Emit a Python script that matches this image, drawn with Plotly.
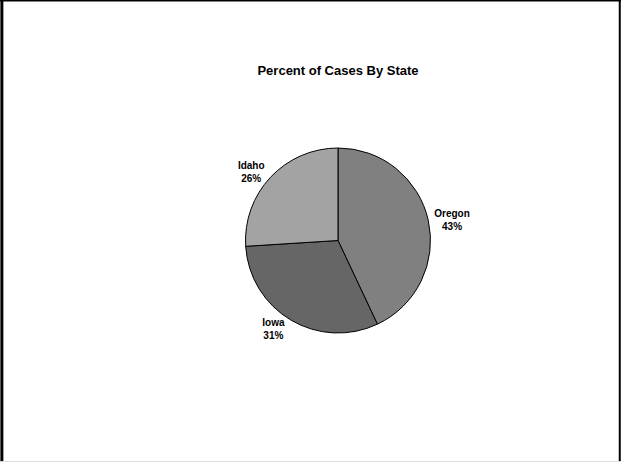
import plotly.graph_objects as go

states = ["Oregon", "Iowa", "Idaho"]
percents = [43, 31, 26]
colors = ["#808080", "#666666", "#a3a3a3"]

W, H = 621, 462
cx, cy, r = 338, 240.5, 92.5

fig = go.Figure(go.Pie(
    labels=states,
    values=percents,
    sort=False,
    direction="clockwise",
    rotation=0,
    marker=dict(colors=colors, line=dict(color="#000000", width=1)),
    textinfo="label+percent",
    texttemplate="<b>%{label}</b><br><b>%{percent:.0%}</b>",
    textposition="outside",
    textfont=dict(family="Liberation Sans", size=10, color="#000000"),
    domain=dict(x=[(cx - r) / W, (cx + r) / W], y=[(H - cy - r) / H, (H - cy + r) / H]),
    showlegend=False,
    hoverinfo="skip",
))

fig.update_layout(
    width=W, height=H,
    margin=dict(l=0, r=0, t=0, b=0),
    paper_bgcolor="#ffffff",
    plot_bgcolor="#ffffff",
    title=dict(text="<b>Percent of Cases By State</b>", x=338 / W, xanchor="center",
               y=1 - 70 / H, yanchor="middle",
               font=dict(family="Liberation Sans", size=13, color="#000000")),
    shapes=[
        dict(type="line", xref="paper", yref="paper", x0=0, x1=1, y0=1, y1=1,
             line=dict(color="#000000", width=3)),
        dict(type="line", xref="paper", yref="paper", x0=0.003, x1=0.003, y0=0, y1=1,
             line=dict(color="#000000", width=3)),
        dict(type="line", xref="paper", yref="paper", x0=0.998, x1=0.998, y0=0, y1=1,
             line=dict(color="#000000", width=2)),
        dict(type="line", xref="paper", yref="paper", x0=0, x1=1, y0=0.001, y1=0.001,
             line=dict(color="#dddddd", width=1)),
    ],
)

fig.write_html("out.html")
